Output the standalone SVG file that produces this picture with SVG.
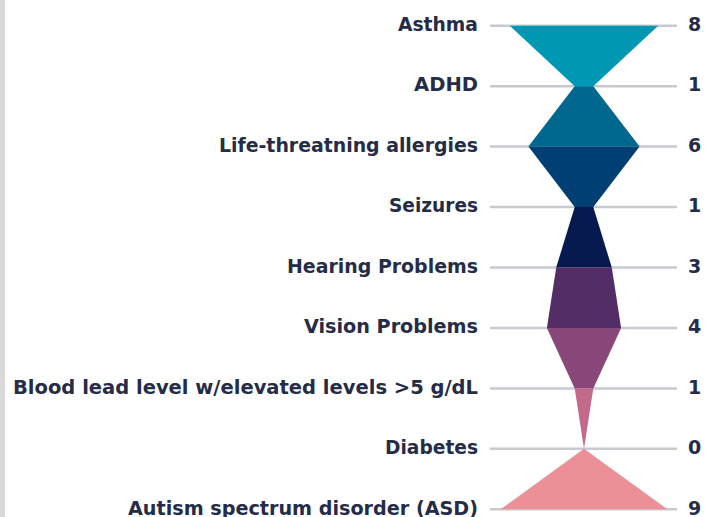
<svg xmlns="http://www.w3.org/2000/svg" width="712" height="517" viewBox="0 0 712 517">
<style>
.lbl{font-family:"DejaVu Sans","Liberation Sans",sans-serif;font-weight:bold;font-size:19px;fill:#252C48;text-anchor:end}
.val{font-family:"DejaVu Sans","Liberation Sans",sans-serif;font-weight:bold;font-size:19px;fill:#252C48;text-anchor:start}
.grid{stroke:#C8CAD1;stroke-width:2.5}
</style>
<rect x="0" y="0" width="5" height="517" fill="#DADADA"/>
<g id="gridlines">
<line class="grid" x1="490" y1="25.7" x2="677" y2="25.7"/>
<line class="grid" x1="490" y1="86.15" x2="677" y2="86.15"/>
<line class="grid" x1="490" y1="146.6" x2="677" y2="146.6"/>
<line class="grid" x1="490" y1="207.05" x2="677" y2="207.05"/>
<line class="grid" x1="490" y1="267.5" x2="677" y2="267.5"/>
<line class="grid" x1="490" y1="327.95" x2="677" y2="327.95"/>
<line class="grid" x1="490" y1="388.4" x2="677" y2="388.4"/>
<line class="grid" x1="490" y1="448.85" x2="677" y2="448.85"/>
<line class="grid" x1="490" y1="509.3" x2="677" y2="509.3"/>
</g>
<g id="asthma">
<text class="lbl" x="478" y="30.9" textLength="80" lengthAdjust="spacingAndGlyphs">Asthma</text>
<text class="val" x="688" y="30.9">8</text>
<polygon fill="#0097B2" points="509.8,25.7 658.2,25.7 593.3,86.15 574.7,86.15"/>
</g>
<g id="adhd">
<text class="lbl" x="478" y="91.35" textLength="64" lengthAdjust="spacingAndGlyphs">ADHD</text>
<text class="val" x="688" y="91.35">1</text>
<polygon fill="#00678F" points="574.7,86.15 593.3,86.15 639.6,146.6 528.4,146.6"/>
</g>
<g id="allergies">
<text class="lbl" x="478" y="151.8" textLength="259" lengthAdjust="spacingAndGlyphs">Life-threatning allergies</text>
<text class="val" x="688" y="151.8">6</text>
<polygon fill="#003F73" points="528.4,146.6 639.6,146.6 593.3,207.05 574.7,207.05"/>
</g>
<g id="seizures">
<text class="lbl" x="478" y="212.25" textLength="89" lengthAdjust="spacingAndGlyphs">Seizures</text>
<text class="val" x="688" y="212.25">1</text>
<polygon fill="#061A50" points="574.7,207.05 593.3,207.05 611.8,267.5 556.2,267.5"/>
</g>
<g id="hearing">
<text class="lbl" x="478" y="272.7" textLength="191" lengthAdjust="spacingAndGlyphs">Hearing Problems</text>
<text class="val" x="688" y="272.7">3</text>
<polygon fill="#522D66" points="556.2,267.5 611.8,267.5 621.1,327.95 546.9,327.95"/>
</g>
<g id="vision">
<text class="lbl" x="478" y="333.15" textLength="174" lengthAdjust="spacingAndGlyphs">Vision Problems</text>
<text class="val" x="688" y="333.15">4</text>
<polygon fill="#8A4779" points="546.9,327.95 621.1,327.95 593.3,388.4 574.7,388.4"/>
</g>
<g id="bloodlead">
<text class="lbl" x="478" y="393.6" textLength="465" lengthAdjust="spacingAndGlyphs">Blood lead level w/elevated levels &gt;5 g/dL</text>
<text class="val" x="688" y="393.6">1</text>
<polygon fill="#C3698B" points="574.7,388.4 593.3,388.4 584,448.85"/>
</g>
<g id="diabetes">
<text class="lbl" x="478" y="454.05" textLength="93" lengthAdjust="spacingAndGlyphs">Diabetes</text>
<text class="val" x="688" y="454.05">0</text>
<polygon fill="#EC9097" points="584,448.85 667.4,509.3 500.6,509.3"/>
</g>
<g id="autism">
<text class="lbl" x="478" y="514.5" textLength="350" lengthAdjust="spacingAndGlyphs">Autism spectrum disorder (ASD)</text>
<text class="val" x="688" y="514.5">9</text>
</g>
</svg>
